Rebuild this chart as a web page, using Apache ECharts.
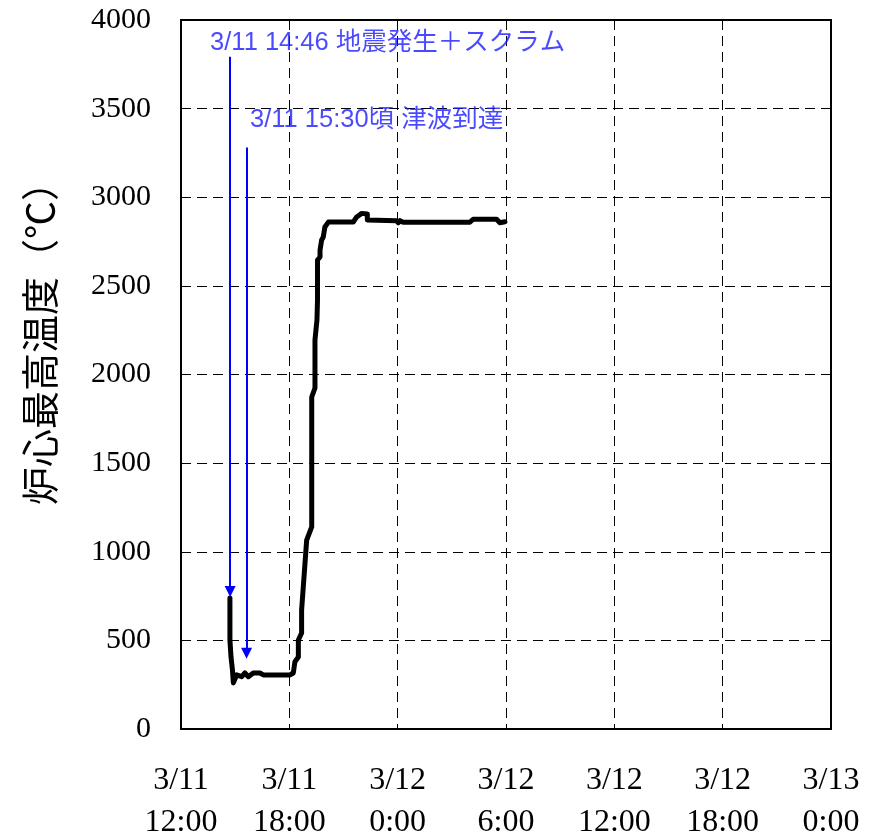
<!DOCTYPE html>
<html>
<head>
<meta charset="utf-8">
<script src="https://cdn.jsdelivr.net/npm/echarts@6/dist/echarts.min.js"></script>
<style>html,body{margin:0;padding:0;background:#fff;}#c{width:874px;height:834px;}</style>
</head>
<body>
<div id="c"></div>
<script>
// Hours after 3/11 12:00
var timeHours = [2.71,2.71,2.77,2.85,2.90,3.08,3.36,3.54,3.73,4.00,4.37,4.56,6.04,6.22,6.31,6.50,6.50,6.68,6.68,6.96,7.24,7.24,7.42,7.42,7.53,7.56,7.56,7.70,7.70,7.79,7.88,7.97,8.16,9.54,9.73,10.01,10.32,10.32,11.94,12.03,12.13,12.31,16.00,16.18,17.48,17.66,17.94];
var tempC = [739,502,406,333,260,305,295,316,295,316,316,305,305,316,380,406,502,542,671,1066,1140,1873,1924,2195,2307,2420,2646,2663,2702,2759,2776,2832,2860,2860,2889,2909,2905,2872,2868,2856,2868,2859,2859,2876,2876,2856,2862];

var xTickLabels = ['3/11\n12:00','3/11\n18:00','3/12\n0:00','3/12\n6:00','3/12\n12:00','3/12\n18:00','3/13\n0:00'];
var yTitle = '炉心最高温度（℃）';

// annotations: arrow x (hours), arrow top (°C), arrow tip (°C)
var arrowX = [2.72, 3.63];
var arrowTop = [3792, 3280];
var arrowTip = [748, 400];
var noteText = ['3/11 14:46 地震発生＋スクラム', '3/11 15:30頃 津波到達'];
var noteX = [1.61, 3.82];
var noteY = [3872, 3436];

var blue = '#0000ff';
var textBlue = '#1c1cff';
var arrowOffset = 28; // half arrowhead in °C so tip lands on value

var chart = echarts.init(document.getElementById('c'), null, {renderer:'canvas'});
var lineData = timeHours.map(function(h,i){ return [h, tempC[i]]; });
var markLines = arrowX.map(function(x,i){
  return [{coord:[x, arrowTop[i]]},{coord:[x, arrowTip[i] + arrowOffset]}];
});
var notes = noteX.map(function(x,i){ return {value:[x, noteY[i]], name: noteText[i]}; });

chart.setOption({
  animation:false,
  backgroundColor:'#fff',
  grid:{left:181, right:43, top:20, bottom:105, containLabel:false, outerBoundsMode:'none',
    show:true, borderColor:'#000', borderWidth:2, backgroundColor:'transparent'},
  xAxis:{
    type:'value', min:0, max:36, interval:6,
    axisLine:{show:false}, axisTick:{show:false},
    splitLine:{show:true, lineStyle:{color:'#000', width:1, type:[10,6]}},
    axisLabel:{
      margin:31, color:'#000', fontFamily:'Liberation Serif', fontSize:32, lineHeight:42,
      showMaxLabel:true, showMinLabel:true,
      formatter:function(v){ return xTickLabels[Math.round(v/6)] || ''; }
    }
  },
  yAxis:{
    type:'value', min:0, max:4000, interval:500,
    axisLine:{show:false}, axisTick:{show:false},
    splitLine:{show:true, lineStyle:{color:'#000', width:1, type:[10,6]}},
    axisLabel:{margin:30, color:'#000', fontFamily:'Liberation Serif', fontSize:30,
      formatter:function(v){ return String(v); }}
  },
  graphic:[{
    type:'text', x:40, y:334, rotation:Math.PI/2,
    style:{text:yTitle, fill:'#000', font:'38px "Noto Sans CJK JP"', textAlign:'center', textVerticalAlign:'middle'}
  }],
  series:[
    {
      type:'line', data:lineData, symbol:'none', silent:true,
      lineStyle:{color:'#000', width:5, join:'round', cap:'round'},
      markLine:{
        silent:true, symbol:['none','triangle'], symbolSize:[11,11],
        label:{show:false},
        lineStyle:{color:blue, width:2, type:'solid'},
        data:markLines
      }
    },
    {
      type:'scatter', data:notes, symbolSize:0, silent:true,
      label:{show:true, position:'right', distance:0, color:textBlue,
        fontFamily:'"Liberation Sans", "Noto Sans CJK JP", sans-serif', fontSize:25.5,
        formatter:function(p){ return p.name; }}
    }
  ]
});
</script>
</body>
</html>
